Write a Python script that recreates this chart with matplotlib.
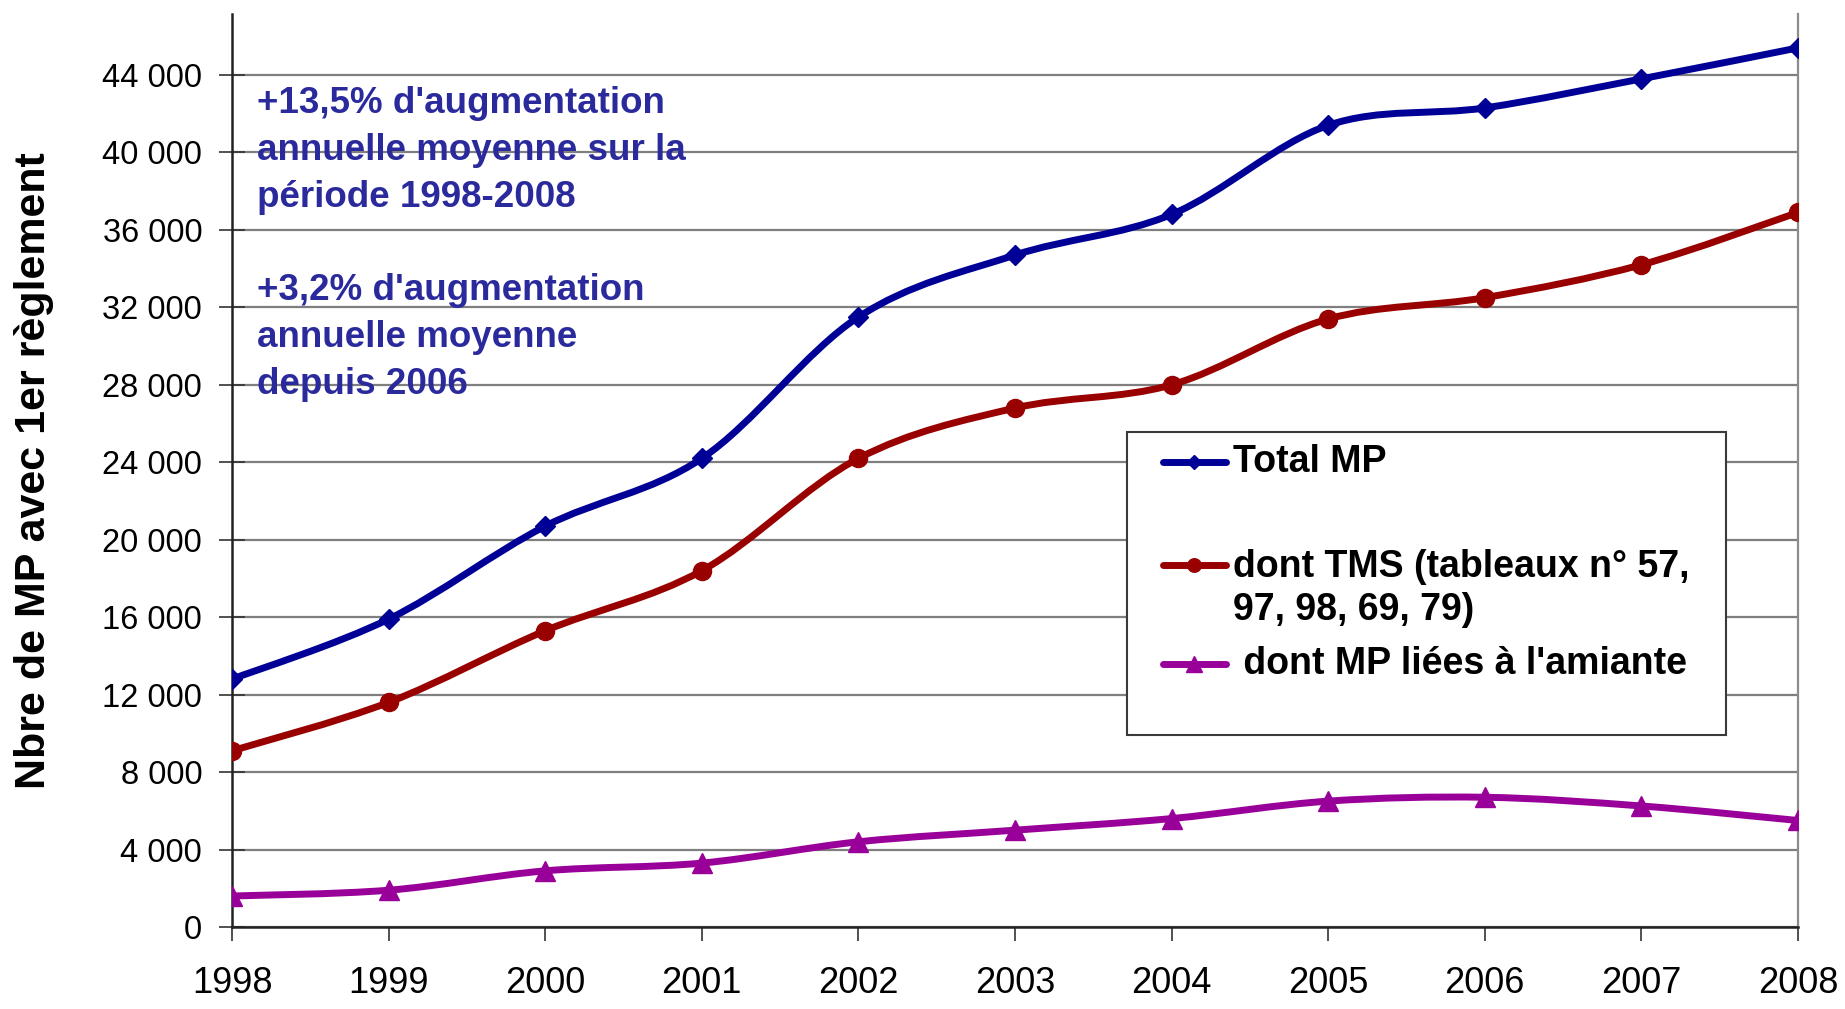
import numpy as np
import matplotlib
matplotlib.use("Agg")
import matplotlib.pyplot as plt
from matplotlib.path import Path
from matplotlib.patches import PathPatch, Rectangle

plt.rcParams['font.family'] = ['Liberation Sans', 'DejaVu Sans']

# Data
years = [1998, 1999, 2000, 2001, 2002, 2003, 2004, 2005, 2006, 2007, 2008]
total_mp = [12800, 15900, 20700, 24200, 31500, 34700, 36800, 41400, 42300, 43800, 45400]
tms = [9100, 11600, 15300, 18400, 24200, 26800, 28000, 31400, 32500, 34200, 36900]
amiante = [1600, 1900, 2900, 3300, 4400, 5000, 5600, 6500, 6700, 6250, 5500]

series_labels = ['Total MP', 'dont TMS (tableaux n° 57,\n97, 98, 69, 79)',
                 " dont MP liées à l'amiante"]
y_ticks = list(range(0, 44001, 4000))

note_1 = "+13,5% d'augmentation\nannuelle moyenne sur la\npériode 1998-2008"
note_2 = "+3,2% d'augmentation\nannuelle moyenne\ndepuis 2006"

BLUE = '#000096'
RED = '#990000'
PURPLE = '#990099'
NOTE = '#2a2a9c'


def smooth_path(x, y):
    """Excel-like smoothed line: cubic Bezier segments through the points."""
    n = len(x)
    verts = [(x[0], y[0])]
    codes = [Path.MOVETO]
    for i in range(n - 1):
        xa, ya = (x[i - 1], y[i - 1]) if i > 0 else (x[i], y[i])
        xb, yb = (x[i + 2], y[i + 2]) if i + 2 < n else (x[i + 1], y[i + 1])
        c1 = (x[i] + (x[i + 1] - xa) / 6, y[i] + (y[i + 1] - ya) / 6)
        c2 = (x[i + 1] - (xb - x[i]) / 6, y[i + 1] - (yb - y[i]) / 6)
        verts += [c1, c2, (x[i + 1], y[i + 1])]
        codes += [Path.CURVE4] * 3
    return Path(verts, codes)


fig = plt.figure(figsize=(18.45, 10.09), dpi=100)
ax = fig.add_axes([0.12575, 0.08127, 0.84878, 0.90486])

styles = [
    (total_mp, BLUE, 'D', 10),
    (tms, RED, 'o', 13),
    (amiante, PURPLE, '^', 15),
]
LW = 5
for vals, col, mk, ms in styles:
    ax.add_patch(PathPatch(smooth_path(years, vals), facecolor='none',
                           edgecolor=col, lw=LW, joinstyle='round',
                           capstyle='round', zorder=3))
    ax.plot(years, vals, linestyle='none', marker=mk, markersize=ms,
            color=col, markeredgecolor=col, zorder=4)

ax.set_xlim(1998, 2008)
ax.set_ylim(0, 47150)
ax.set_xticks(years)
ax.set_xticklabels([str(y) for y in years], fontsize=26)
ax.set_yticks(y_ticks)
ax.set_yticklabels([f'{v:,}'.replace(',', ' ') for v in y_ticks], fontsize=23.5)

ax.tick_params(axis='x', direction='out', length=10, width=1.2, pad=18,
               color='#333333')
ax.tick_params(axis='y', direction='inout', length=19, width=1.2, pad=12,
               color='#333333')

ax.set_axisbelow(True)
ax.yaxis.grid(True, color='#7f7f7f', lw=1.6)
ax.spines['top'].set_visible(False)
ax.spines['left'].set_color('#222222')
ax.spines['left'].set_linewidth(1.8)
ax.spines['bottom'].set_color('#222222')
ax.spines['bottom'].set_linewidth(1.8)
ax.spines['right'].set_color('#8c8c8c')
ax.spines['right'].set_linewidth(1.6)

ax.set_ylabel('Nbre de MP avec 1er règlement', fontsize=31, fontweight='bold')
ax.yaxis.set_label_coords(-0.1137, 0.5)

# Annotations
ax.text(0.016, 0.8505, note_1, transform=ax.transAxes, fontsize=26.5,
        fontweight='bold', color=NOTE, ha='left', va='center', linespacing=1.45)
ax.text(0.016, 0.6455, note_2, transform=ax.transAxes, fontsize=26.5,
        fontweight='bold', color=NOTE, ha='left', va='center', linespacing=1.45)

# Legend box drawn by hand (uneven row spacing in the original)
ax.add_patch(Rectangle((0.5715, 0.2103), 0.3825, 0.3319, transform=ax.transAxes,
                       facecolor='white', edgecolor='#3a3a3a', lw=1.5, zorder=5))
handle_x = [0.5945, 0.6146, 0.6347]
handle_y = [0.5093, 0.3965, 0.288]
text_y = [0.5093, 0.371, 0.288]
for (vals, col, mk, ms), hy, ty, lab in zip(styles, handle_y, text_y, series_labels):
    ax.plot(handle_x, [hy] * 3, color=col, lw=LW, marker=mk, markersize=ms * 0.75,
            markevery=[1], transform=ax.transAxes, zorder=6, solid_capstyle='round')
    ax.text(0.639, ty, lab, transform=ax.transAxes, fontsize=27, fontweight='bold',
            ha='left', va='center', linespacing=1.25, zorder=6)

fig.savefig('out.png', dpi=100)
